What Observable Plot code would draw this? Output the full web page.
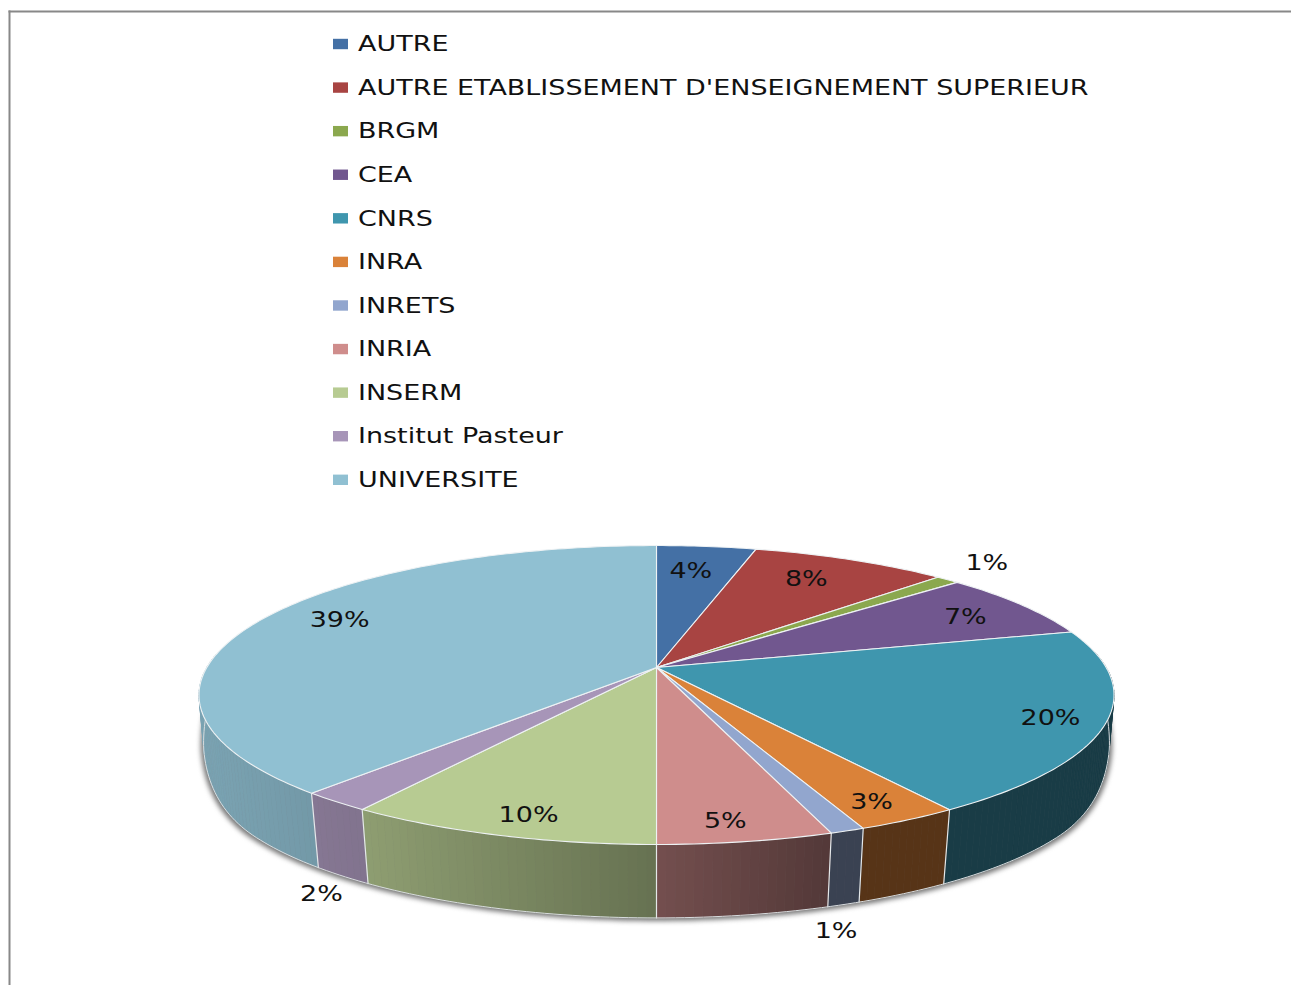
<!DOCTYPE html>
<html><head><meta charset="utf-8">
<style>html,body{margin:0;padding:0;background:#fff}svg{display:block}</style>
<script src="https://cdn.jsdelivr.net/npm/d3@7"></script>
<script src="https://cdn.jsdelivr.net/npm/@observablehq/plot@0.6"></script>
</head><body><script>
const categories = ["AUTRE","AUTRE ETABLISSEMENT D'ENSEIGNEMENT SUPERIEUR","BRGM","CEA","CNRS","INRA","INRETS","INRIA","INSERM","Institut Pasteur","UNIVERSITE"];
const shares = [4.2,8.3,1.0,7.35,19.85,3.07,1.03,5.2,9.35,2.15,38.5];
const labels = ["4%","8%","1%","7%","20%","3%","1%","5%","10%","2%","39%"];
const colors = ["#4470A5","#A84442","#8BA84E","#71578F","#3F96AE","#DA8239","#92A6CE","#CF8D8C","#B7CB92","#A795B8","#90C0D2"];
// label placement: fraction of the radius along the slice's mid-angle, then a small nudge
const labelRing = [.8,.8,1.15,.85,.9,.92,.95,.92,.92,1.03,.8];
const labelNudgeX = [-7,-10,1,-5,-8,-13,0,-12,15,-3,3];
const labelNudgeY = [4,0,-5,4,2,-3,110,-4,-4,88,-8];

// perspective view of the pie disc
const K=.184, A=144.4, B=449.7;
const top2d=(t,r=1)=>{const u=r*Math.sin(t),v=-r*Math.cos(t),d=1-K*v;return {x:B*u/d,y:A*v/d,v};};
const depthAt=d3.scaleLinear().domain([0,.6]).range([0,1]).clamp(true);
const shrinkAt=d3.scaleLinear().domain([.2,.6]).range([.99,.98]).clamp(true);
const low2d=t=>{
  const p=top2d(t),d=25+52*Math.sin(depthAt(p.v)*Math.PI/2);
  return {x:p.x*shrinkAt(p.v),y:p.y*.98+d,v:p.v};
};
const total=d3.sum(shares);
const edges=[0,...d3.cumsum(shares)].map(s=>s/total*2*Math.PI);
const STEP=Math.PI/180;
const sweep=(a,b)=>{const n=Math.max(1,Math.ceil((b-a)/STEP));return d3.range(n+1).map(i=>a+(b-a)*i/n);};
const shade=d3.scaleLinear().domain([-456,-286,0,175]).range([.85,.77,.56,.4]).clamp(true);
const dim=(c,f)=>{const q=d3.rgb(c);return d3.rgb(q.r*f,q.g*f,q.b*f).formatRgb();};

const tops=[],walls=[],dividers=[],shadow=[];
categories.forEach((name,i)=>{
  const ts=sweep(edges[i],edges[i+1]);
  const centre={x:0,y:0};
  [centre,...ts.map(t=>top2d(t)),centre].forEach(p=>tops.push({key:name,x:p.x,y:p.y,color:colors[i]}));
  d3.pairs(ts).forEach(([a,b],j)=>{
    const m=top2d((a+b)/2);
    if(m.v<-.1) return;
    const col=dim(colors[i],shade(m.x)),key=name+j;
    [top2d(a),top2d(b),low2d(b),low2d(a),top2d(a)].forEach(p=>walls.push({key,x:p.x,y:p.y,v:m.v,color:col}));
  });
  const e=edges[i];
  if(top2d(e).v>.1) [top2d(e),low2d(e)].forEach(p=>dividers.push({key:name,x:p.x,y:p.y}));
});
walls.sort((a,b)=>a.v-b.v);
sweep(0,2*Math.PI).forEach(t=>{const p=low2d(t);shadow.push({x:p.x*1.004,y:p.y+2});});
const rim=sweep(Math.PI*.45,Math.PI*1.55).map(low2d);

const pieLabels=categories.map((c,i)=>{
  const p=top2d((edges[i]+edges[i+1])/2,labelRing[i]);
  return {text:labels[i],x:p.x+labelNudgeX[i],y:p.y+labelNudgeY[i]};
});
const ROW0=-623,ROWSTEP=43.58;
const legend=categories.map((c,i)=>({name:c,color:colors[i],y:ROW0+i*ROWSTEP}));
const FONT="'DejaVu Sans'";

const chart=Plot.plot({
  width:1291,height:985,marginLeft:9,marginTop:11,marginRight:0,marginBottom:0,
  x:{domain:[-647,635],range:[9,1291],axis:null},
  y:{domain:[-656,318],range:[11,985],axis:null},
  color:{type:"identity"},
  marks:[
    Plot.frame({anchor:"left",stroke:"#888",strokeWidth:2}),
    Plot.frame({anchor:"top",stroke:"#888",strokeWidth:2}),
    Plot.line(shadow,{x:"x",y:"y",fill:"#777",stroke:"#777",strokeWidth:2,imageFilter:"blur(2.5px)"}),
    Plot.line(walls,{x:"x",y:"y",z:"key",fill:"color",stroke:"color",strokeWidth:.6,sort:null}),
    Plot.line(dividers,{x:"x",y:"y",z:"key",stroke:"#e4e8ea",strokeWidth:1.2}),
    Plot.line(rim,{x:"x",y:"y",stroke:"#d8dcde",strokeWidth:1}),
    Plot.line(tops,{x:"x",y:"y",z:"key",fill:"color",stroke:"#eef2f4",strokeWidth:1.1}),
    Plot.text(pieLabels,{x:"x",y:"y",text:"text",fontSize:21,fontFamily:FONT,fill:"#111"}),
    Plot.rect(legend,{x1:-323,x2:-308,y1:d=>d.y-5.2,y2:d=>d.y+5.2,fill:"color"}),
    Plot.text(legend,{x:-298.5,y:"y",text:"name",textAnchor:"start",fontSize:21,fontFamily:FONT,fill:"#111"})
  ]
});
// the reference is stretched horizontally: widen each glyph run about its anchor
chart.querySelectorAll("text").forEach(t=>{
  t.setAttribute("transform",(t.getAttribute("transform")||"")+" scale(1.285 1)");
});
document.body.appendChild(chart);
</script></body></html>
